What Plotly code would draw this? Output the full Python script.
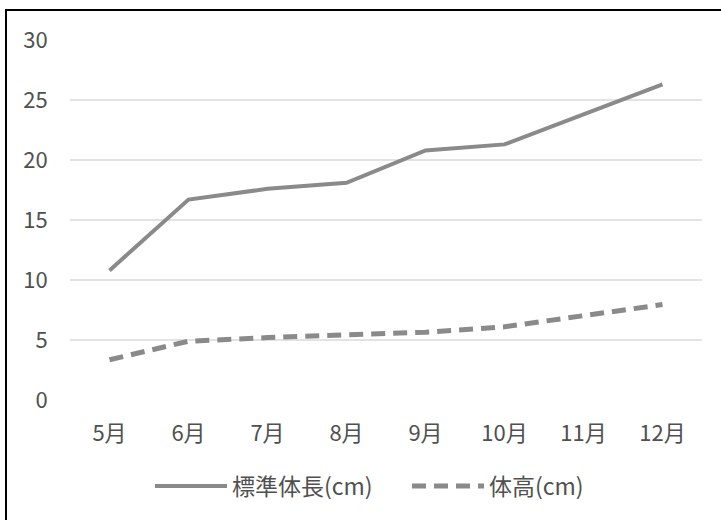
import plotly.graph_objects as go

months = ["5月", "6月", "7月", "8月", "9月", "10月", "11月", "12月"]
body_length = [10.8, 16.7, 17.6, 18.1, 20.8, 21.3, 23.8, 26.3]
body_height = [3.35, 4.9, 5.2, 5.45, 5.65, 6.1, 7.05, 7.95]
name_length = "標準体長(cm)"
name_height = "体高(cm)"
y_ticks = [0, 5, 10, 15, 20, 25, 30]

W, H = 721, 520
L, R, T, B = 70, 19, 40, 120
pw, ph = W - L - R, H - T - B

def px_x(p):
    return (p - L) / pw

def px_y(p):
    return (H - B - p) / ph

font = "Noto Sans CJK JP, Noto Sans, sans-serif"
txt = "#505050"
fig = go.Figure()
fig.add_trace(go.Scatter(x=months, y=body_length, name=name_length, mode="lines",
                         line=dict(color="#8a8a8a", width=4), legend="legend"))
fig.add_trace(go.Scatter(x=months, y=body_height, name=name_height, mode="lines",
                         line=dict(color="#8a8a8a", width=5, dash="14px,8px"), legend="legend2"))

leg = dict(orientation="h", xanchor="left", y=px_y(486), yanchor="middle",
           font=dict(size=23, color=txt), itemwidth=72, bgcolor="rgba(0,0,0,0)")
fig.update_layout(
    width=W, height=H,
    margin=dict(l=L, r=R, t=T, b=B),
    paper_bgcolor="white", plot_bgcolor="white",
    font=dict(family=font, size=22, color=txt),
    showlegend=True,
    legend=dict(leg, x=px_x(150)),
    legend2=dict(leg, x=px_x(407)),
    xaxis=dict(type="category", range=[-0.5, 7.5], showgrid=False, zeroline=False,
               showline=False, ticks="outside", ticklen=14, tickcolor="rgba(0,0,0,0)",
               tickfont=dict(size=22)),
    yaxis=dict(range=[0, 30], tickvals=y_ticks, showgrid=True, gridcolor="#e3e3e3",
               gridwidth=1.5, zeroline=False, showline=False, ticks="outside",
               ticklen=17, tickcolor="rgba(0,0,0,0)", tickfont=dict(size=22)),
)
fig.add_shape(type="rect", xref="paper", yref="paper",
              x0=px_x(6), x1=px_x(725), y0=px_y(525), y1=px_y(10),
              line=dict(color="black", width=2), fillcolor="rgba(0,0,0,0)", layer="above")
fig.write_html("out.html")
